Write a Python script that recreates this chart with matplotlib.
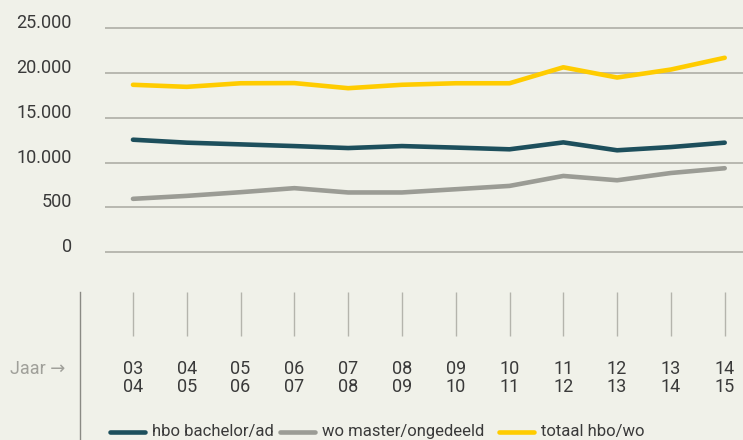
import matplotlib.pyplot as plt
from matplotlib.lines import Line2D

# academic years, shown as two-line labels
years = ['03\n04', '04\n05', '05\n06', '06\n07', '07\n08', '08\n09',
         '09\n10', '10\n11', '11\n12', '12\n13', '13\n14', '14\n15']
hbo = [12550, 12220, 12030, 11840, 11620, 11840, 11670, 11480, 12250, 11370, 11730, 12220]
wo = [5960, 6290, 6700, 7150, 6670, 6670, 7030, 7400, 8510, 8030, 8840, 9370]
totaal = [18670, 18440, 18840, 18860, 18290, 18670, 18840, 18840, 20620, 19480, 20370, 21680]
names = ['hbo bachelor/ad', 'wo master/ongedeeld', 'totaal hbo/wo']
colors = ['#1d4f5c', '#9b9c95', '#ffcc00']
yticks = [0, 5000, 10000, 15000, 20000, 25000]
ytick_labels = ['0', '500', '10.000', '15.000', '20.000', '25.000']

plt.rcParams['font.family'] = ['Roboto', 'DejaVu Sans']
bg = '#f0f1e9'
txt = '#3a3a3a'
W, H = 743, 440
fs = 13

fig = plt.figure(figsize=(7.43, 4.40), dpi=100, facecolor=bg)

#main chart area
ax = fig.add_axes([105 / W, (H - 256.8) / H, (W - 105) / W, (256.8 - 23.5) / H])
ax.set_facecolor(bg)
x = list(range(len(years)))
for vals, c in zip([hbo, wo, totaal], colors):
    ax.plot(x, vals, color=c, lw=3.3, solid_capstyle='round', zorder=3)
ax.set_xlim(-0.52, 11.34)
ax.set_ylim(-500, 25500)
ax.set_yticks(yticks)
ax.set_yticklabels(ytick_labels, fontsize=fs, color=txt, va='baseline')
ax.tick_params(axis='y', length=0, pad=24)
ax.set_xticks([])
ax.grid(axis='y', color='#aeaea6', lw=1.2)
for s in ax.spines.values():
    s.set_visible(False)

#year axis below
ax2 = fig.add_axes([105 / W, 0, (W - 105) / W, 148 / H])
ax2.set_facecolor(bg)
ax2.set_xlim(ax.get_xlim())
ax2.set_ylim(440, 292)
ax2.axis('off')
ax2.vlines(x, 292, 336, color='#b4b4ac', lw=1)
for i, lab in zip(x, years):
    ax2.text(i, 360, lab, ha='center', va='top', fontsize=fs,
             color=txt, linespacing=1.0)

fig.add_artist(Line2D([80 / W, 80 / W], [0, 148 / H], transform=fig.transFigure,
                      color='#8a8a84', lw=1))
fig.text(10 / W, 1 - 369 / H, 'Jaar \u2192', fontsize=fs, color='#a0a09a',
         va='center', family=['Roboto', 'DejaVu Sans'])

#legend drawn by hand
hx = [110, 280, 499]
for name, c, x0 in zip(names, colors, hx):
    fig.add_artist(Line2D([x0 / W, (x0 + 35) / W], [1 - 432 / H] * 2,
                          transform=fig.transFigure, color=c, lw=3.3,
                          solid_capstyle='round'))
    fig.text((x0 + 42) / W, 1 - 431 / H, name, fontsize=12, color=txt,
             va='center')

fig.savefig('out.png', dpi=100, facecolor=bg)
